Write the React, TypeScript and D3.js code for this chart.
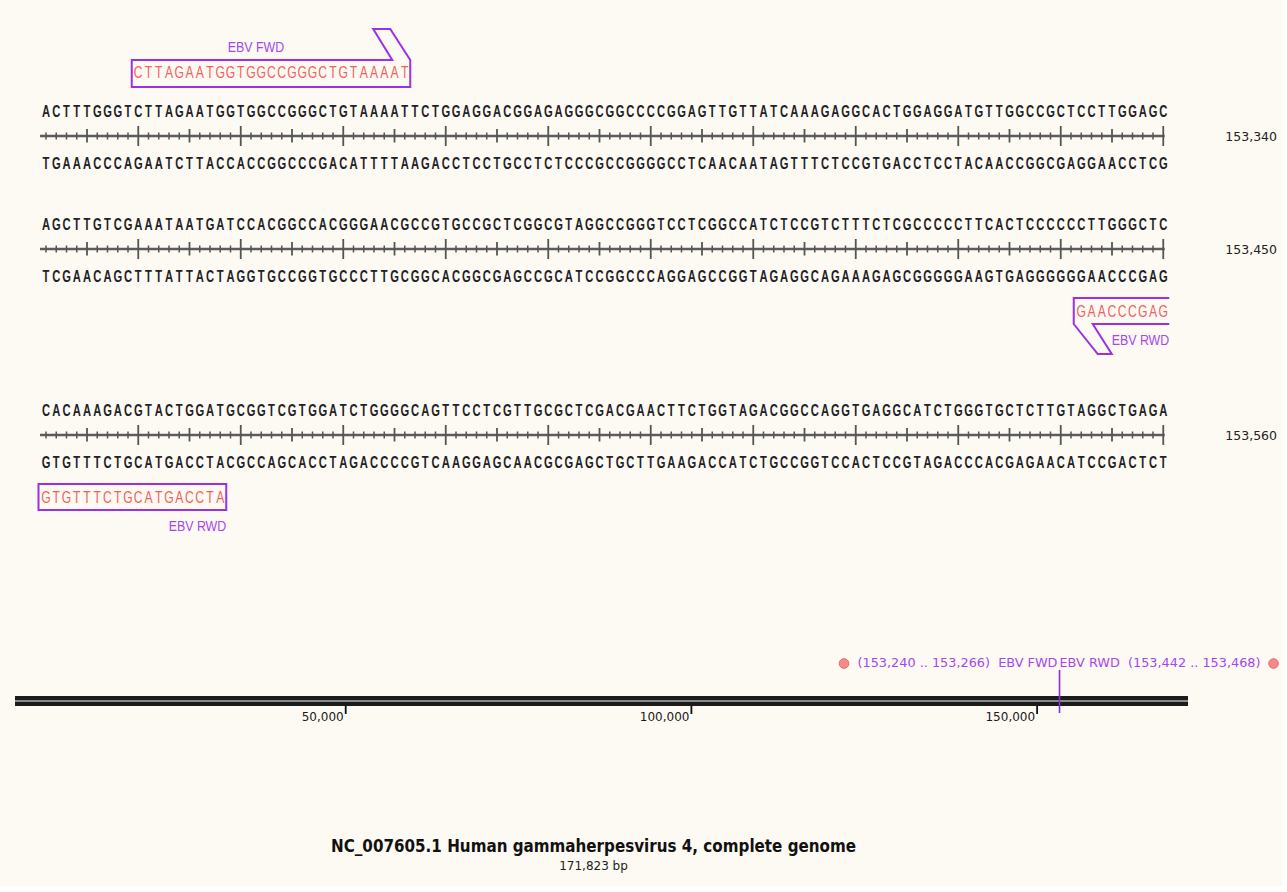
import React from 'react'
import * as d3 from 'd3'

const W = 1287
const H = 892

// sequence rows (top strand / bottom strand), 110 bp each
const seqTop = [
  'ACTTTGGGTCTTAGAATGGTGGCCGGGCTGTAAAATTCTGGAGGACGGAGAGGGCGGCCCCGGAGTTGTTATCAAAGAGGCACTGGAGGATGTTGGCCGCTCCTTGGAGC',
  'AGCTTGTCGAAATAATGATCCACGGCCACGGGAACGCCGTGCCGCTCGGCGTAGGCCGGGTCCTCGGCCATCTCCGTCTTTCTCGCCCCCTTCACTCCCCCCTTGGGCTC',
  'CACAAAGACGTACTGGATGCGGTCGTGGATCTGGGGCAGTTCCTCGTTGCGCTCGACGAACTTCTGGTAGACGGCCAGGTGAGGCATCTGGGTGCTCTTGTAGGCTGAGA',
]
const seqBottom = [
  'TGAAACCCAGAATCTTACCACCGGCCCGACATTTTAAGACCTCCTGCCTCTCCCGCCGGGGCCTCAACAATAGTTTCTCCGTGACCTCCTACAACCGGCGAGGAACCTCG',
  'TCGAACAGCTTTATTACTAGGTGCCGGTGCCCTTGCGGCACGGCGAGCCGCATCCGGCCCAGGAGCCGGTAGAGGCAGAAAGAGCGGGGGAAGTGAGGGGGGAACCCGAG',
  'GTGTTTCTGCATGACCTACGCCAGCACCTAGACCCCGTCAAGGAGCAACGCGAGCTGCTTGAAGACCATCTGCCGGTCCACTCCGTAGACCCACGAGAACATCCGACTCT',
]
const rowEnds = [153340, 153450, 153560]
const rowLen = 110

const primerNames = ['EBV FWD', 'EBV RWD']
const primerStarts = [153240, 153442]
const primerEnds = [153266, 153468]
const primerStrands = ['+', '-']

const genomeLength = 171823
const mapTicks = [50000, 100000, 150000]
const genomeTitle = 'NC_007605.1 Human gammaherpesvirus 4, complete genome'

// layout
const rulerY = [136, 249, 435]
const PURPLE = '#9b30e8'
const PURPLE_TXT = '#a547f0'
const RED = '#f2605c'
const SEQ_FONT = '"Liberation Sans", Arial, sans-serif'
const UI_FONT = '"DejaVu Sans", Verdana, sans-serif'

const x = d3.scaleLinear().domain([0, rowLen - 1]).range([46, 1163.25])
const mapX = d3.scaleLinear().domain([0, genomeLength]).range([0, 1188])
const fmt = d3.format(',')

function Letter({ cx, y, ch, fill, bold }: { cx: number; y: number; ch: string; fill: string; bold?: boolean }) {
  return (
    <text
      transform={`translate(${cx},${y}) scale(${bold ? 0.7 : 0.76},1)`}
      textAnchor="middle"
      fontFamily={SEQ_FONT}
      fontWeight={bold ? 'bold' : 'normal'}
      fontSize={16}
      fill={fill}
    >
      {ch}
    </text>
  )
}

function Label({ px, y, text, anchor }: { px: number; y: number; text: string; anchor: string }) {
  return (
    <text
      transform={`translate(${px},${y}) scale(0.8,1)`}
      textAnchor={anchor}
      fontFamily={SEQ_FONT}
      fontSize={15.5}
      fill={PURPLE_TXT}
    >
      {text}
    </text>
  )
}

function Row({ r }: { r: number }) {
  const ry = rulerY[r]
  const rowStart = rowEnds[r] - rowLen + 1
  const idx = d3.range(rowLen)
  const top = seqTop[r]
  const bot = seqBottom[r]

  const primers = primerNames.map((name, p) => {
    const s = Math.max(primerStarts[p], rowStart)
    const e = Math.min(primerEnds[p], rowEnds[r])
    if (s > e) return null
    const i0 = s - rowStart
    const i1 = e - rowStart
    const letters = d3.range(i0, i1 + 1)
    if (primerStrands[p] === '+') {
      const L = x(i0) - 6.5
      const R = x(i1) + 5.5
      const t = ry - 76
      const b = ry - 49
      const tip = ry - 107
      const path = `M${L},${t}H${R - 18}L${R - 37},${tip}H${R - 20}L${R},${t}V${b}H${L}Z`
      return (
        <g key={name}>
          <path d={path} fill="none" stroke={PURPLE} strokeWidth={2} />
          {letters.map((i) => (
            <Letter key={i} cx={x(i)} y={ry - 58} ch={top[i]} fill={RED} />
          ))}
          <Label px={(L + R - 30) / 2} y={ry - 84} text={name} anchor="middle" />
        </g>
      )
    }
    const L = x(i0) - 7.5
    const R = x(i1) + 6
    const t = ry + 49
    const b = ry + 75
    const hasHead = primerStarts[p] >= rowStart
    const continues = primerEnds[p] > rowEnds[r]
    let path = ''
    if (hasHead) {
      path = `M${R},${t}H${L}V${b}L${L + 24},${ry + 105}H${L + 38}L${L + 19},${b}H${R}`
      if (!continues) path += 'Z'
    } else {
      path = `M${L},${t}H${R}V${b}H${L}Z`
    }
    return (
      <g key={name}>
        <path d={path} fill="none" stroke={PURPLE} strokeWidth={2} strokeLinejoin="miter" />
        {letters.map((i) => (
          <Letter key={i} cx={x(i)} y={ry + 68} ch={bot[i]} fill={RED} />
        ))}
        <Label px={R} y={ry + 96} text={name} anchor="end" />
      </g>
    )
  })

  return (
    <g>
      {idx.map((i) => (
        <Letter key={'t' + i} cx={x(i)} y={ry - 19} ch={top[i]} fill="#222226" bold />
      ))}
      <line x1={x(0) - 6} x2={x(rowLen - 1) + 1.5} y1={ry} y2={ry} stroke="#5c5c5c" strokeWidth={2.4} />
      {idx.map((i) => {
        const pos = rowStart + i
        const up = pos % 10 === 0 ? 10 : pos % 5 === 0 ? 7 : 3.5
        const dn = pos % 10 === 0 ? 10 : pos % 5 === 0 ? 6.5 : 3.5
        return (
          <line
            key={'k' + i}
            x1={x(i)}
            x2={x(i)}
            y1={ry - up}
            y2={ry + dn}
            stroke="#555"
            strokeWidth={pos % 5 === 0 ? 1.8 : 1.5}
          />
        )
      })}
      {idx.map((i) => (
        <Letter key={'b' + i} cx={x(i)} y={ry + 33} ch={bot[i]} fill="#222226" bold />
      ))}
      <text x={1277} y={ry + 5} textAnchor="end" fontFamily={UI_FONT} fontSize={12.5} fill="#222">
        {fmt(rowEnds[r])}
      </text>
      {primers}
    </g>
  )
}

function GenomeMap() {
  const ly = 696
  const markX = mapX(primerStarts[0])
  const leftLabel = `(${fmt(primerStarts[0])} .. ${fmt(primerEnds[0])})  ${primerNames[0]}`
  const rightLabel = `${primerNames[1]}  (${fmt(primerStarts[1])} .. ${fmt(primerEnds[1])})`
  return (
    <g>
      <rect x={15} y={ly} width={mapX(genomeLength) - 15} height={10} fill="#1c1c1c" />
      <line x1={15} x2={mapX(genomeLength)} y1={ly + 5} y2={ly + 5} stroke="#8a8a8a" strokeWidth={2} />
      {mapTicks.map((t) => (
        <g key={t}>
          <line x1={mapX(t)} x2={mapX(t)} y1={ly + 10} y2={ly + 18} stroke="#111" strokeWidth={1.8} />
          <text x={mapX(t) - 2} y={ly + 25} textAnchor="end" fontFamily={UI_FONT} fontSize={12} fill="#1a1a1a">
            {fmt(t)}
          </text>
        </g>
      ))}
      <line x1={markX} x2={markX} y1={670} y2={713} stroke="#8a2be2" strokeWidth={1.6} />
      <text
        x={markX - 2}
        y={667}
        textAnchor="end"
        fontFamily={UI_FONT}
        fontSize={12.5}
        fill={PURPLE_TXT}
        textLength={200}
        lengthAdjust="spacingAndGlyphs"
        style={{ whiteSpace: 'pre' }}
      >
        {leftLabel}
      </text>
      <text
        x={markX}
        y={667}
        textAnchor="start"
        fontFamily={UI_FONT}
        fontSize={12.5}
        fill={PURPLE_TXT}
        textLength={201}
        lengthAdjust="spacingAndGlyphs"
        style={{ whiteSpace: 'pre' }}
      >
        {rightLabel}
      </text>
      <circle cx={markX - 215.5} cy={663.5} r={4.8} fill="#f58a8a" stroke="#e86a6a" strokeWidth={1} />
      <circle cx={markX + 214} cy={663.5} r={4.8} fill="#f58a8a" stroke="#e86a6a" strokeWidth={1} />
      <text
        x={593.5}
        y={852}
        textAnchor="middle"
        fontFamily={UI_FONT}
        fontWeight="bold"
        fontSize={17.5}
        fill="#111"
        textLength={525}
        lengthAdjust="spacingAndGlyphs"
      >
        {genomeTitle}
      </text>
      <text x={593.5} y={870} textAnchor="middle" fontFamily={UI_FONT} fontSize={12} fill="#222">
        {`${fmt(genomeLength)} bp`}
      </text>
    </g>
  )
}

export default function App() {
  React.useEffect(() => {
    document.body.style.margin = '0'
  }, [])
  return (
    <svg
      width={W}
      height={H}
      style={{ display: 'block', position: 'absolute', left: 0, top: 0, background: '#fff' }}
    >
      <rect x={0} y={0} width={1283} height={886} fill="#fdfaf3" />
      {rulerY.map((_, r) => (
        <Row key={r} r={r} />
      ))}
      <GenomeMap />
    </svg>
  )
}
